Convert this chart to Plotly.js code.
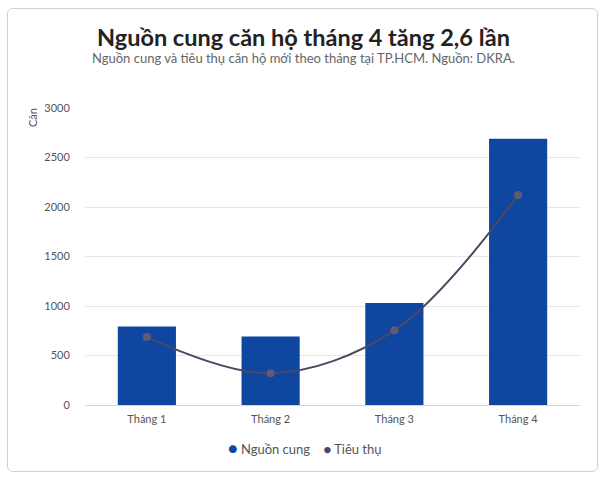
<!DOCTYPE html>
<html>
<head>
<meta charset="utf-8">
<script src="https://cdn.plot.ly/plotly-3.0.1.min.js"></script>
<style>
  body { margin: 0; background: #fff; }
  #wrap { position: relative; width: 606px; height: 480px; }
  #chart { width: 606px; height: 480px; }
  #card {
    position: absolute; left: 7px; top: 8px; width: 589px; height: 462px;
    border: 1px solid #d0d0d0; border-radius: 6px; pointer-events: none;
  }
</style>
</head>
<body>
<div id="wrap">
  <div id="chart"></div>
  <div id="card"></div>
</div>
<script>
// data
const months = ['Tháng 1', 'Tháng 2', 'Tháng 3', 'Tháng 4'];
const supply = [793, 693, 1030, 2690];
const sales = [686, 321, 754, 2120];

const FONT = 'Lato, "Noto Sans", sans-serif';
const BAR_COLOR = '#0f47a0';
const LINE_COLOR = '#4b4865';

// plot area in pixels, to place the text around it
const PL = 85, PW = 495, PT = 108, PH = 297;
const px = x => (x - PL) / PW;
const py = y => 1 - (y - PT) / PH;

let traces = [
    {
        x: months,
        y: supply,
        name: 'Nguồn cung',
        type: 'bar',
        marker: { color: BAR_COLOR },
        hoverinfo: 'none'
    },
    {
        x: months,
        y: sales,
        name: 'Tiêu thụ',
        type: 'scatter',
        mode: 'lines+markers',
        line: { shape: 'spline', color: LINE_COLOR, width: 2 },
        marker: { color: '#605b73', size: 8 },
        hoverinfo: 'none'
    }
];

let layout = {
    width: 606,
    height: 480,
    margin: { l: PL, r: 606 - PL - PW, t: PT, b: 480 - PT - PH },
    paper_bgcolor: '#fff',
    plot_bgcolor: '#fff',
    font: { family: FONT, color: '#555', size: 11 },
    showlegend: false,
    bargap: 0.53,
    xaxis: {
        type: 'category',
        range: [-0.5, 3.5],
        showgrid: false,
        showline: true,
        linecolor: '#ccd6eb',
        linewidth: 1,
        ticks: 'outside',
        ticklen: 4,
        tickcolor: 'rgba(0,0,0,0)',
        tickfont: { size: 11, color: '#555' },
        fixedrange: true
    },
    yaxis: {
        range: [0, 3000],
        tickvals: [0, 500, 1000, 1500, 2000, 2500, 3000],
        gridcolor: '#e6e6e6',
        zeroline: false,
        ticks: 'outside',
        ticklen: 12,
        tickcolor: 'rgba(0,0,0,0)',
        tickfont: { size: 11, color: '#555' },
        fixedrange: true
    },
    annotations: [
        {
            text: '<b>Nguồn cung căn hộ tháng 4 tăng 2,6 lần</b>',
            xref: 'paper', yref: 'paper',
            x: px(303), y: py(37),
            xanchor: 'center', yanchor: 'middle',
            showarrow: false,
            font: { family: FONT, size: 23.5, color: '#222' }
        },
        {
            text: 'Nguồn cung và tiêu thụ căn hộ mới theo tháng tại TP.HCM. Nguồn: DKRA.',
            xref: 'paper', yref: 'paper',
            x: px(303), y: py(58),
            xanchor: 'center', yanchor: 'middle',
            showarrow: false,
            font: { family: FONT, size: 13, color: '#666' }
        },
        {
            text: 'Căn',
            xref: 'paper', yref: 'paper',
            x: px(33), y: py(118),
            xanchor: 'center', yanchor: 'middle',
            textangle: -90,
            showarrow: false,
            font: { family: FONT, size: 11, color: '#555' }
        },
        {
            text: '<span style="color:' + BAR_COLOR + ';font-size:16px">●</span> ' + traces[0].name +
                  '    <span style="color:' + LINE_COLOR + ';font-size:13px">●</span> ' + traces[1].name,
            xref: 'paper', yref: 'paper',
            x: px(305), y: py(448),
            xanchor: 'center', yanchor: 'middle',
            showarrow: false,
            font: { family: FONT, size: 13, color: '#555' }
        }
    ]
};

Plotly.newPlot('chart', traces, layout, { displayModeBar: false, staticPlot: true });
</script>
</body>
</html>
